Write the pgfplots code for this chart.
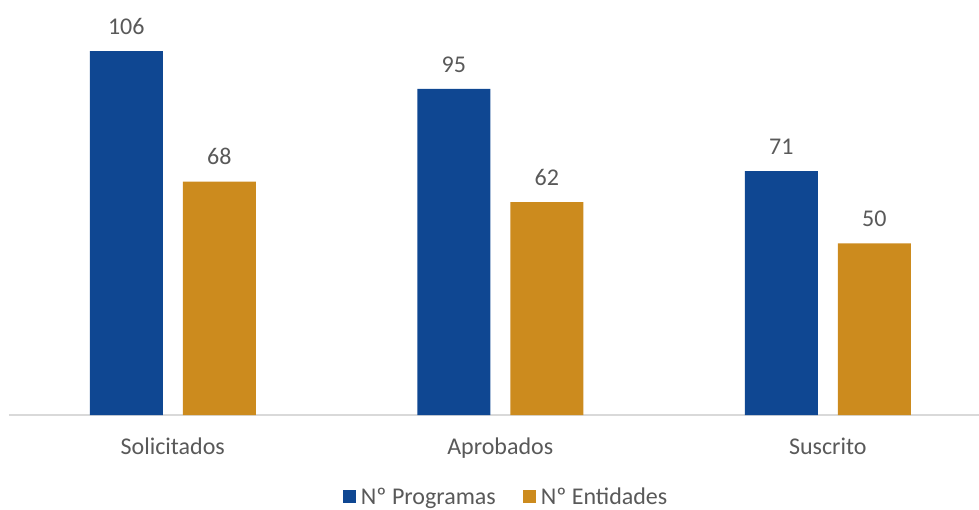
\documentclass[border=0pt]{standalone}
\usepackage{fontspec}
\setmainfont{Carlito}
\usepackage{pgfplots}
\pgfplotsset{compat=1.18}
\definecolor{cblue}{HTML}{0F4792}
\definecolor{corange}{HTML}{CC8B1E}
\definecolor{ctext}{HTML}{595959}
\definecolor{caxis}{HTML}{D9D9D9}
\begin{document}
\begin{tikzpicture}
\begin{axis}[
  scale only axis, width=982.5pt, height=412pt,
  xmin=-0.5, xmax=2.5, ymin=0, ymax=120,
  axis y line=none,
  axis x line*=bottom,
  x axis line style={draw=caxis, line width=1.3pt, -},
  xtick={0,1,2}, xticklabels={Solicitados,Aprobados,Suscrito},
  major tick length=0pt,
  xticklabel style={font=\fontsize{24}{29}\selectfont, text=ctext, yshift=-19pt},
  ybar=20pt, bar width=73pt,
  nodes near coords,
  /pgf/number format/assume math mode=true,
  every node near coord/.append style={font=\fontsize{24}{29}\selectfont, text=ctext, yshift=13pt},
  legend style={draw=none, legend columns=-1, at={(rel axis cs:0.506,-0.199)}, anchor=center,
    font=\fontsize{24}{29}\selectfont, text=ctext,
    /tikz/every even column/.append style={column sep=25pt}},
  legend image code/.code={\fill[#1] (0pt,-6.5pt) rectangle (13pt,6.5pt); \path (16pt,0pt);},
  clip=false,
]
\addplot[fill=cblue, draw=none] coordinates {(0,106) (1,95) (2,71)};
\addplot[fill=corange, draw=none] coordinates {(0,68) (1,62) (2,50)};
\legend{Nº Programas, Nº Entidades}
\coordinate (ll) at (rel axis cs:0,0);
\coordinate (ur) at (rel axis cs:1,1);
\end{axis}
\pgfresetboundingbox
\path ([shift={(-9pt,-94pt)}]ll) rectangle ([shift={(970pt,0pt)}]ll |- ur) ++(0pt,3pt);
\end{tikzpicture}
\end{document}
